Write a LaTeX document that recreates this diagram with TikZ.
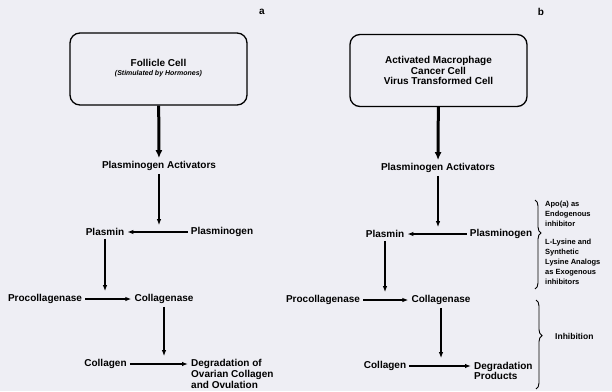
\documentclass[tikz,border=0pt]{standalone}
\usepackage{fontspec}
\setmainfont{Liberation Sans}
\usetikzlibrary{positioning,arrows.meta,decorations.pathreplacing}
\definecolor{paper}{RGB}{238,238,244}

\begin{document}
\begin{tikzpicture}[x=1pt,y=-1pt,
  txt/.style={font=\fontsize{10}{11}\selectfont\bfseries,inner sep=3pt},
  side/.style={font=\fontsize{7.5}{10}\selectfont\bfseries,align=left,anchor=west,inner sep=0pt},
  cell/.style={draw,line width=1.3pt,rounded corners=10pt,minimum width=177pt,minimum height=72pt,align=center,font=\fontsize{10}{10.5}\selectfont\bfseries},
  flow/.style={-{Latex[length=6pt,width=4.5pt]},line width=1.2pt},
  heavy/.style={-{Latex[length=8pt,width=7pt]},line width=3pt},
  brc/.style={decorate,decoration={brace,amplitude=6pt},line width=0.9pt}]
\fill[paper] (0,0) rectangle (612,391);
\useasboundingbox (0,0) rectangle (612,391);

% panel a
\node[txt] (labA) at (262,12) {a};
\node[cell] (fcell) at (158.5,69) {\raisebox{-4pt}{\begin{tabular}{@{}c@{}}Follicle Cell\\[-1pt]{\fontsize{7}{8}\selectfont\itshape (Stimulated by Hormones)}\end{tabular}}};
\node[txt] (paA) at (159,166) {Plasminogen Activators};
\node[txt] (plasminA) at (105,232) {Plasmin};
\node[txt] (plgA) at (222,232) {Plasminogen};
\node[txt] (procA) at (45,299) {Procollagenase};
\node[txt] (collA) at (164,299) {Collagenase};
\node[txt] (colgA) at (105.5,364) {Collagen};
\node[txt,anchor=west,align=left,font=\fontsize{10}{10.8}\selectfont\bfseries] (degA) at (188,374) {Degradation of\\Ovarian Collagen\\and Ovulation};

\draw[heavy] (fcell) -- (paA);
\draw[flow] (paA.south) -- (paA.south |- plasminA.north);
\draw[flow] (plgA) -- (plasminA);
\draw[flow] (plasminA.south) -- (plasminA.south |- collA.north);
\draw[flow] (procA) -- (collA);
\draw[flow] (collA.south) -- (collA.south |- colgA.north);
\draw[flow] (colgA.east) -- (colgA.east -| degA.west);

% panel b
\node[txt] (labB) at (541,12) {b};
\node[cell] (mcell) at (438.5,70.5) {Activated Macrophage\\Cancer Cell\\Virus Transformed Cell};
\node[txt] (paB) at (438,168) {Plasminogen Activators};
\node[txt] (plasminB) at (385,234) {Plasmin};
\node[txt] (plgB) at (501,234) {Plasminogen};
\node[txt] (procB) at (323,300) {Procollagenase};
\node[txt] (collB) at (441,300) {Collagenase};
\node[txt] (colgB) at (385,366) {Collagen};
\node[txt,anchor=west,align=left,font=\fontsize{10}{10.8}\selectfont\bfseries] (degB) at (471,371) {Degradation\\Products};

\draw[heavy] (mcell) -- (paB);
\draw[flow] (paB.south) -- (paB.south |- plasminB.north);
\draw[flow] (plgB) -- (plasminB);
\draw[flow] (plasminB.south) -- (plasminB.south |- collB.north);
\draw[flow] (procB) -- (collB);
\draw[flow] (collB.south) -- (collB.south |- colgB.north);
\draw[flow] (colgB.east) -- (colgB.east -| degB.west);

% braces
\coordinate (br1t) at (535,200);
\coordinate (br1b) at (535,289);
\coordinate (br2t) at (536,300);
\coordinate (br2b) at (536,389);
\draw[brc,decoration={aspect=0.37}] (br1t) -- (br1b);
\draw[brc,decoration={aspect=0.4}] (br2t) -- (br2b);
\node[side] (apo) at (545,214) {Apo(a) as\\Endogenous\\inhibitor};
\node[side] (lys) at (545,262) {L-Lysine and\\Synthetic\\Lysine Analogs\\as Exogenous\\inhibitors};
\node[side,font=\fontsize{8.5}{10}\selectfont\bfseries] (inh) at (555,336) {Inhibition};
\end{tikzpicture}
\end{document}
